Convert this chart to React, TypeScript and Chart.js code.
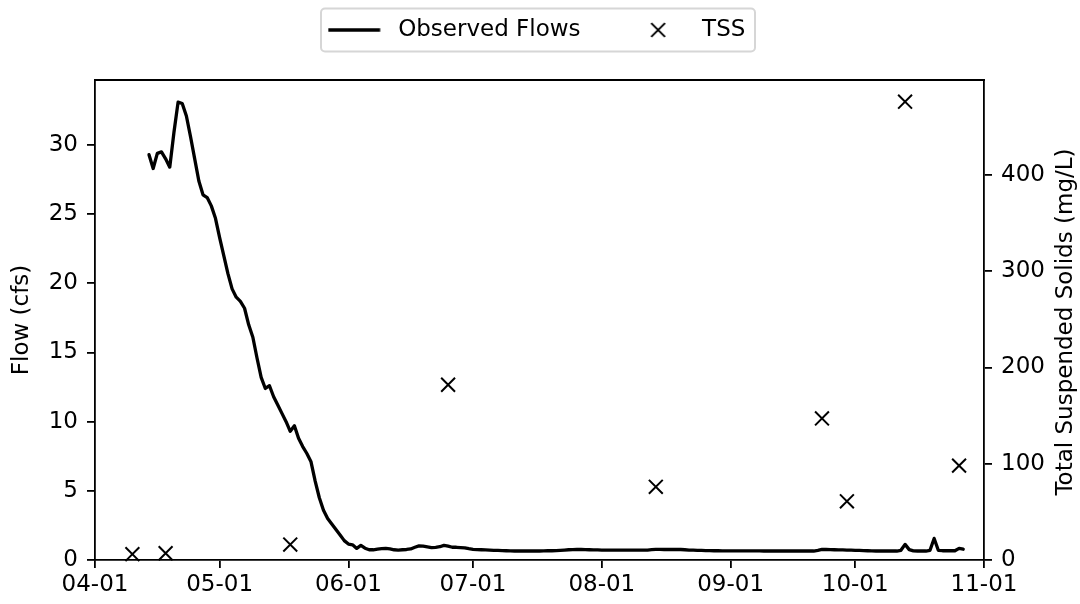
import React, { useEffect, useRef } from 'react';
import { Chart, registerables } from 'chart.js';

Chart.register(...registerables);

// ---------------- data ----------------
const tickLabels = ['04-01', '05-01', '06-01', '07-01', '08-01', '09-01', '10-01', '11-01'];
const flowTicks = [0, 5, 10, 15, 20, 25, 30];
const tssTicks = [0, 100, 200, 300, 400];

const flowStart = '04-14';
const flowValues = [
  29.3, 28.3, 29.4, 29.5, 29.0, 28.4, 30.9, 33.1, 33.0, 32.1,
  30.6, 29.0, 27.4, 26.4, 26.2, 25.6, 24.7, 23.3, 22.0, 20.7,
  19.6, 19.0, 18.7, 18.2, 17.0, 16.1, 14.6, 13.2, 12.4, 12.6,
  11.8, 11.2, 10.6, 10.0, 9.3, 9.7, 8.8, 8.2, 7.7, 7.1,
  5.7, 4.5, 3.6, 3.0, 2.6, 2.2, 1.8, 1.4, 1.15, 1.1,
  0.84, 1.05, 0.85, 0.74, 0.74, 0.78, 0.82, 0.84, 0.80, 0.74,
  0.72, 0.74, 0.76, 0.80, 0.92, 1.02, 1.00, 0.95, 0.90, 0.92,
  0.96, 1.06, 1.00, 0.92, 0.92, 0.90, 0.88, 0.82, 0.77, 0.75,
  0.74, 0.73, 0.72, 0.70, 0.69, 0.68, 0.67, 0.66, 0.65, 0.65,
  0.65, 0.65, 0.65, 0.65, 0.65, 0.66, 0.67, 0.67, 0.68, 0.70,
  0.72, 0.74, 0.75, 0.76, 0.77, 0.75, 0.74, 0.73, 0.73, 0.72,
  0.72, 0.72, 0.72, 0.72, 0.72, 0.72, 0.72, 0.72, 0.72, 0.72,
  0.72, 0.75, 0.77, 0.77, 0.76, 0.77, 0.76, 0.77, 0.76, 0.74,
  0.72, 0.71, 0.70, 0.69, 0.68, 0.68, 0.67, 0.67, 0.66, 0.66,
  0.66, 0.66, 0.66, 0.66, 0.66, 0.66, 0.66, 0.66, 0.65, 0.65,
  0.65, 0.65, 0.65, 0.65, 0.65, 0.65, 0.65, 0.65, 0.65, 0.65,
  0.65, 0.70, 0.76, 0.76, 0.75, 0.74, 0.73, 0.73, 0.72, 0.71,
  0.70, 0.69, 0.68, 0.67, 0.66, 0.65, 0.65, 0.65, 0.65, 0.65,
  0.65, 0.70, 1.13, 0.75, 0.66, 0.65, 0.65, 0.65, 0.70, 1.56,
  0.70, 0.67, 0.67, 0.67, 0.67, 0.84, 0.78,
];

const tssDates = ['04-10', '04-18', '05-18', '06-25', '08-14', '09-23', '09-29', '10-13', '10-26'];
const tssValues = [6, 7, 16, 182, 76, 147, 61, 476, 98];

const flowAxisMax = 34.7;
const tssAxisMax = 498.5;

// ---------------- helpers ----------------
const FONT_FAMILY = "'DejaVu Sans', sans-serif";
const FONT_SIZE = 23;

const dayOf = (md: string) => {
  const [m, d] = md.split('-').map(Number);
  return Math.round((Date.UTC(2023, m - 1, d) - Date.UTC(2023, 3, 1)) / 86400000);
};

function makeLineIcon() {
  const c = document.createElement('canvas');
  c.width = 66;
  c.height = 12;
  const g = c.getContext('2d')!;
  g.strokeStyle = '#000';
  g.lineWidth = 3.3;
  g.beginPath();
  g.moveTo(0.5, 6);
  g.lineTo(52.5, 6);
  g.stroke();
  return c;
}

function makeCrossIcon() {
  const c = document.createElement('canvas');
  c.width = 66;
  c.height = 20;
  const g = c.getContext('2d')!;
  g.strokeStyle = '#000';
  g.lineWidth = 2;
  const cx = 26.5, cy = 10, h = 6.9;
  g.beginPath();
  g.moveTo(cx - h, cy - h);
  g.lineTo(cx + h, cy + h);
  g.moveTo(cx + h, cy - h);
  g.lineTo(cx - h, cy + h);
  g.stroke();
  return c;
}

const framePlugin = {
  id: 'mplFrame',
  beforeDraw(chart: any) {
    const ctx = chart.ctx;
    ctx.save();
    ctx.fillStyle = '#ffffff';
    ctx.fillRect(0, 0, chart.width, chart.height);
    // legend frame
    const x = 321, y = 8.5, w = 434, h = 43, r = 4;
    ctx.strokeStyle = '#d6d6d6';
    ctx.lineWidth = 2;
    ctx.beginPath();
    ctx.moveTo(x + r, y);
    ctx.lineTo(x + w - r, y);
    ctx.arcTo(x + w, y, x + w, y + r, r);
    ctx.lineTo(x + w, y + h - r);
    ctx.arcTo(x + w, y + h, x + w - r, y + h, r);
    ctx.lineTo(x + r, y + h);
    ctx.arcTo(x, y + h, x, y + h - r, r);
    ctx.lineTo(x, y + r);
    ctx.arcTo(x, y, x + r, y, r);
    ctx.closePath();
    ctx.stroke();
    ctx.restore();
  },
  afterDraw(chart: any) {
    const ctx = chart.ctx;
    const a = chart.chartArea;
    ctx.save();
    // top spine
    ctx.strokeStyle = '#000';
    ctx.lineWidth = 1.8;
    ctx.beginPath();
    ctx.moveTo(a.left - 0.9, a.top);
    ctx.lineTo(a.right + 0.9, a.top);
    ctx.stroke();
    // right axis title (reads bottom-to-top)
    ctx.fillStyle = '#000';
    ctx.font = `${FONT_SIZE}px ${FONT_FAMILY}`;
    ctx.textAlign = 'center';
    ctx.textBaseline = 'alphabetic';
    ctx.translate(1071.5, (a.top + a.bottom) / 2 + 2);
    ctx.rotate(-Math.PI / 2);
    ctx.fillText('Total Suspended Solids (mg/L)', 0, 0);
    ctx.restore();
  },
};

export default function App() {
  const canvasRef = useRef<HTMLCanvasElement | null>(null);

  useEffect(() => {
    if (!canvasRef.current) return;
    const lineIcon = makeLineIcon();
    const crossIcon = makeCrossIcon();
    const startDay = dayOf(flowStart);
    const font = { family: FONT_FAMILY, size: FONT_SIZE, weight: 'normal' as const };
    const tickDays = tickLabels.map(dayOf);

    const chart = new Chart(canvasRef.current, {
      type: 'line',
      data: {
        datasets: [
          {
            type: 'line',
            label: 'Observed Flows',
            data: flowValues.map((v, i) => ({ x: startDay + i, y: v })),
            borderColor: '#000',
            backgroundColor: '#000',
            borderWidth: 3.3,
            pointRadius: 0,
            tension: 0,
            yAxisID: 'y',
            borderJoinStyle: 'round',
            borderCapStyle: 'round',
          },
          {
            type: 'scatter',
            label: 'TSS',
            data: tssDates.map((d, i) => ({ x: dayOf(d), y: tssValues[i] })),
            pointStyle: 'crossRot',
            pointRadius: 9.8,
            pointBorderWidth: 2,
            borderColor: '#000',
            backgroundColor: '#000',
            yAxisID: 'y1',
            clip: false,
          } as any,
        ],
      },
      options: {
        responsive: false,
        animation: false,
        events: [],
        layout: { padding: { top: -39.5, left: 0, right: 0, bottom: 0 } },
        plugins: {
          tooltip: { enabled: false },
          title: {
            display: true,
            text: '',
            weight: 500,
            padding: { top: 0, bottom: 0 },
            font: { size: 28.5, lineHeight: 1 },
          } as any,
          legend: {
            display: true,
            position: 'top',
            labels: {
              usePointStyle: true,
              pointStyleWidth: 52,
              padding: 58,
              color: '#000',
              font,
              generateLabels: () => [
                {
                  text: 'Observed Flows',
                  pointStyle: lineIcon as any,
                  datasetIndex: 0,
                  fillStyle: '#000',
                  strokeStyle: '#000',
                  lineWidth: 0,
                  hidden: false,
                  fontColor: '#000',
                },
                {
                  text: 'TSS',
                  pointStyle: crossIcon as any,
                  datasetIndex: 1,
                  fillStyle: '#000',
                  strokeStyle: '#000',
                  lineWidth: 0,
                  hidden: false,
                  fontColor: '#000',
                },
              ],
            },
          },
        },
        scales: {
          x: {
            type: 'linear',
            position: 'bottom',
            min: tickDays[0],
            max: tickDays[tickDays.length - 1],
            afterBuildTicks: (s: any) => {
              s.ticks = tickDays.map((v) => ({ value: v }));
            },
            afterFit: (s: any) => {
              s.height = 44;
            },
            ticks: {
              autoSkip: false,
              maxRotation: 0,
              minRotation: 0,
              color: '#000',
              font,
              padding: 3,
              callback: (_v: any, i: number) => tickLabels[i],
            },
            grid: { drawOnChartArea: false, color: '#000', lineWidth: 1.8, tickLength: 8 },
            border: { display: true, color: '#000', width: 1.8 },
          },
          y: {
            type: 'linear',
            position: 'left',
            min: 0,
            max: flowAxisMax,
            afterBuildTicks: (s: any) => {
              s.ticks = flowTicks.map((v) => ({ value: v }));
            },
            afterFit: (s: any) => {
              s.width = 95;
            },
            ticks: { color: '#000', font, padding: 9, callback: (v: any) => String(v) },
            title: {
              display: true,
              text: 'Flow (cfs)',
              color: '#000',
              font,
              padding: { top: 8, bottom: 0 },
            },
            grid: { drawOnChartArea: false, color: '#000', lineWidth: 1.8, tickLength: 8 },
            border: { display: true, color: '#000', width: 1.8 },
          },
          y1: {
            type: 'linear',
            position: 'right',
            min: 0,
            max: tssAxisMax,
            afterBuildTicks: (s: any) => {
              s.ticks = tssTicks.map((v) => ({ value: v }));
            },
            afterFit: (s: any) => {
              s.width = 96;
            },
            ticks: { color: '#000', font, padding: 9, callback: (v: any) => String(v) },
            grid: { drawOnChartArea: false, color: '#000', lineWidth: 1.8, tickLength: 8 },
            border: { display: true, color: '#000', width: 1.8 },
          },
        },
      } as any,
      plugins: [framePlugin],
    });
    return () => chart.destroy();
  }, []);

  return (
    <div style={{ position: 'fixed', left: 0, top: 0, width: 1080, height: 604, background: '#fff' }}>
      <canvas ref={canvasRef} width={1080} height={604} style={{ display: 'block' }} />
    </div>
  );
}
